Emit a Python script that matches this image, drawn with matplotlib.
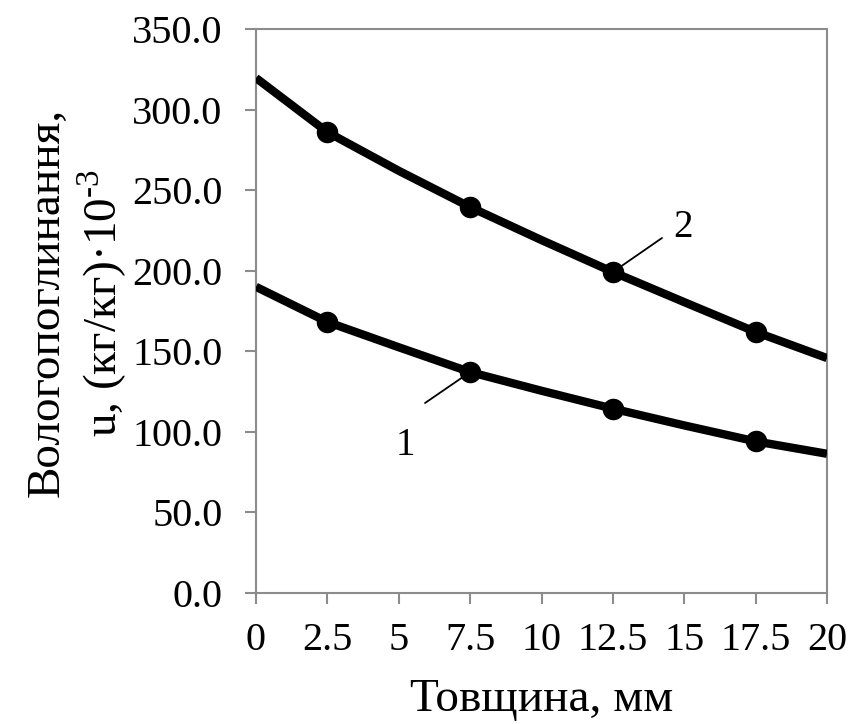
import matplotlib
matplotlib.use("Agg")
import matplotlib.pyplot as plt

plt.rcParams['font.family'] = ['Liberation Serif', 'DejaVu Serif']
plt.rcParams['mathtext.fontset'] = 'custom'
plt.rcParams['mathtext.rm'] = 'Liberation Serif'

# line data (thickness, mm) and curve values
x_line = [0, 2.5, 5, 7.5, 10, 12.5, 15, 17.5, 20]
curve2_line = [319.6, 286.0, 262.0, 239.5, 219.0, 199.2, 180.5, 162.0, 145.8]
curve1_line = [190.0, 168.2, 152.5, 137.1, 125.5, 114.4, 104.0, 94.1, 86.4]

# marker data
x_pts = [2.5, 7.5, 12.5, 17.5]
curve2_pts = [286.0, 239.5, 199.2, 162.0]
curve1_pts = [168.2, 137.1, 114.4, 94.1]

x_ticks = [0, 2.5, 5, 7.5, 10, 12.5, 15, 17.5, 20]
x_ticklabels = ['0', '2.5', '5', '7.5', '10', '12.5', '15', '17.5', '20']
y_ticks = [0, 50, 100, 150, 200, 250, 300, 350]

fig = plt.figure(figsize=(8.5, 7.24), dpi=100)
ax = fig.add_axes([256/850, 1-593/724, (827-256)/850, (593-29)/724])

ax.plot(x_line, curve2_line, color='black', lw=6, solid_capstyle='butt', zorder=3)
ax.plot(x_line, curve1_line, color='black', lw=6, solid_capstyle='butt', zorder=3)
ax.plot(x_pts, curve2_pts, 'o', color='black', ms=14.5, zorder=4)
ax.plot(x_pts, curve1_pts, 'o', color='black', ms=14.5, zorder=4)

ax.set_xlim(0, 20)
ax.set_ylim(0, 350)
ax.set_xticks(x_ticks)
ax.set_xticklabels(x_ticklabels)
ax.set_yticks(y_ticks)
ax.set_yticklabels([f'{v:.1f}' for v in y_ticks])

for s in ax.spines.values():
    s.set_color('#8c8c8c')
    s.set_linewidth(1.5)
ax.tick_params(axis='both', direction='out', length=8, width=1.5, color='#8c8c8c',
               labelsize=29, labelcolor='black')
ax.tick_params(axis='x', pad=13)
ax.tick_params(axis='y', pad=16)
ax.tick_params(top=False, right=False)

ax.set_xlabel('Товщина, мм', fontsize=34, va='center')
ax.xaxis.set_label_coords(0.5, -0.19)
ax.set_ylabel('Вологопоглинання,\nu, (кг/кг)·10$^{\\text{-3}}$', fontsize=34,
              linespacing=1.15, ha='center', va='center')
ax.yaxis.set_label_coords(-0.312, 0.515)

# annotations: label text and a leader line to the curve point
ax.text(14.96, 227.1, '2', fontsize=28, ha='center', va='center')
ax.annotate('', xy=(12.5, 199.2), xytext=(14.22, 220.3),
            arrowprops=dict(arrowstyle='-', color='black', lw=1.3, shrinkA=0, shrinkB=6))
ax.text(5.22, 91.8, '1', fontsize=28, ha='center', va='center')
ax.annotate('', xy=(7.5, 137.1), xytext=(5.92, 117.9),
            arrowprops=dict(arrowstyle='-', color='black', lw=1.3, shrinkA=0, shrinkB=6))

fig.savefig('out.png', dpi=100, facecolor='white')
